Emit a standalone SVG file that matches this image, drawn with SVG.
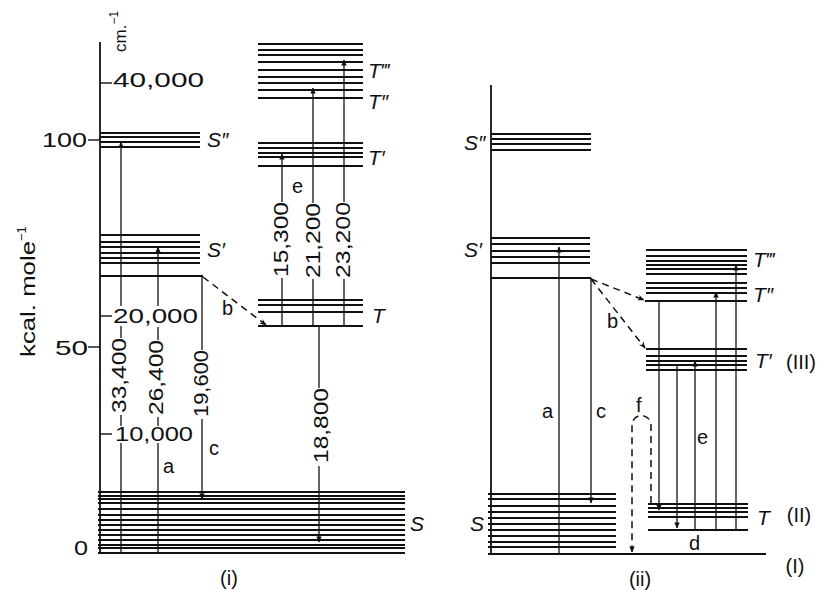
<svg xmlns="http://www.w3.org/2000/svg" width="820" height="590" viewBox="0 0 820 590">
<style>
.lv{stroke:#111;stroke-width:1.8;fill:none}
.lt{stroke:#111;stroke-width:1.3;fill:none}
.ln{stroke:#111;stroke-width:1.4;fill:none}
.ds{stroke:#111;stroke-width:1.5;fill:none;stroke-dasharray:7 5}
text{font-family:"Liberation Sans",Arial,sans-serif;fill:#111}
.num{font-size:21px}
.lab{font-size:21px;font-style:italic}
.sm{font-size:20px}
.par{font-size:20px}
</style>
<defs>
<marker id="ah" viewBox="0 0 10 10" refX="9" refY="5" markerWidth="7" markerHeight="6" markerUnits="userSpaceOnUse" orient="auto"><path d="M0,0.5 L10,5 L0,9.5 z" fill="#111"/></marker>
<marker id="ad" viewBox="0 0 10 10" refX="9" refY="5" markerWidth="9" markerHeight="7" markerUnits="userSpaceOnUse" orient="auto"><path d="M0,1 L10,5 L0,9 L3,5 z" fill="#111"/></marker>
</defs>
<rect width="820" height="590" fill="#fff"/>

<g id="axis-i">
<line class="lv" x1="100" y1="42" x2="100" y2="553"/>
<line class="ln" x1="100" y1="83" x2="112" y2="83"/>
<line class="ln" x1="88" y1="140" x2="100" y2="140"/>
<line class="ln" x1="100" y1="316" x2="112" y2="316"/>
<line class="ln" x1="88" y1="347" x2="100" y2="347"/>
<line class="ln" x1="100" y1="434" x2="112" y2="434"/>
<text class="num" x="113" y="87" textLength="91" lengthAdjust="spacingAndGlyphs">40,000</text>
<text class="num" x="42" y="147" textLength="45" lengthAdjust="spacingAndGlyphs">100</text>
<text class="num" x="113" y="323" textLength="85" lengthAdjust="spacingAndGlyphs">20,000</text>
<text class="num" x="55" y="355" textLength="33" lengthAdjust="spacingAndGlyphs">50</text>
<text class="num" x="115" y="441" textLength="78" lengthAdjust="spacingAndGlyphs">10,000</text>
<text class="num" x="74" y="555" textLength="14" lengthAdjust="spacingAndGlyphs">0</text>
<text style="font-size:17px" transform="translate(126,52) rotate(-90)">cm.<tspan dy="-8" style="font-size:12px">−1</tspan></text>
<text style="font-size:20px" transform="translate(35,357) rotate(-90)"><tspan textLength="116" lengthAdjust="spacingAndGlyphs">kcal. mole</tspan><tspan dy="-9" style="font-size:13px">−1</tspan></text>
<text class="par" x="229" y="585" text-anchor="middle">(i)</text>
</g>

<g id="S-i">
<path class="lv" d="M98 492H405M98 496H405M98 499H405M98 503H405M98 509H405M98 515H405M98 520H405M98 525H405M98 530H405M98 535H405M98 540H405M98 545H405M98 548H405M98 553H405"/>
<text class="lab" x="410" y="531">S</text>
</g>
<g id="S1-i">
<path class="lv" d="M100 235H200M100 242H200M100 247H200M100 253H200M100 258H200M100 263H200M100 276H203"/>
<text class="lab" x="207" y="257">S′</text>
</g>
<g id="S2-i">
<path class="lv" d="M100 133H200M100 137H200M100 142H200M100 147H200"/>
<text class="lab" x="207" y="147">S″</text>
</g>
<g id="T-i">
<path class="lv" d="M258 300H363M258 305H363M258 312H363M258 326H363"/>
<text class="lab" x="372" y="323">T</text>
</g>
<g id="T1-i">
<path class="lv" d="M258 143H363M258 148H363M258 153H363M258 157H363M258 166H363"/>
<text class="lab" x="368" y="165">T′</text>
</g>
<g id="T2-i">
<path class="lv" d="M258 83H363M258 90H363M258 98H363"/>
<text class="lab" x="368" y="109">T″</text>
</g>
<g id="T3-i">
<path class="lv" d="M258 44H363M258 50H363M258 55H363M258 62H363M258 70H363M258 77H363"/>
<text class="lab" x="368" y="78">T‴</text>
</g>

<g id="axis-ii">
<line class="lv" x1="491" y1="85" x2="491" y2="554"/>
<line class="lv" x1="488" y1="554" x2="766" y2="554"/>
<text class="par" x="795" y="573" text-anchor="middle">(I)</text>
<text class="par" x="640" y="586" text-anchor="middle">(ii)</text>
</g>
<g id="S-ii">
<path class="lv" d="M488 494H616M488 499H616M488 506H616M488 512H616M488 518H616M488 524H616M488 530H616M488 536H616M488 542H616M488 547H616"/>
<text class="lab" x="470" y="531">S</text>
</g>
<g id="S1-ii">
<path class="lv" d="M491 238H590M491 244H590M491 251H590M491 257H590M491 263H590M491 278H591"/>
<text class="lab" x="464" y="257">S′</text>
</g>
<g id="S2-ii">
<path class="lv" d="M491 134H591M491 139H591M491 144H591M491 150H591"/>
<text class="lab" x="464" y="150">S″</text>
</g>
<g id="T-ii">
<path class="lv" d="M648 504H748M648 508H748M648 512H748M648 517H748M648 530H748"/>
<text class="lab" x="757" y="525">T</text>
<text class="par" x="799" y="522" text-anchor="middle">(II)</text>
</g>
<g id="T1-ii">
<path class="lv" d="M646 349H747M646 356H747M646 361H747M646 365H747M646 370H747"/>
<text class="lab" x="755" y="368">T′</text>
<text class="par" x="801" y="369" text-anchor="middle">(III)</text>
</g>
<g id="T2-ii">
<path class="lv" d="M646 283H747M646 288H747M646 293H747M645 301H747"/>
<text class="lab" x="753" y="302">T″</text>
</g>
<g id="T3-ii">
<path class="lv" d="M646 250H747M646 256H747M646 261H747M646 265H747M646 269H747M646 274H747"/>
<text class="lab" x="753" y="267">T‴</text>
</g>

<g id="connectors">
<path class="lt" d="M121 553V443M121 426V415M121 338V326"/>
<line class="lt" x1="121" y1="306" x2="121" y2="142" marker-end="url(#ah)"/>
<path class="lt" d="M158 553V443M158 426V417M158 340V327"/>
<line class="lt" x1="158" y1="306" x2="158" y2="247" marker-end="url(#ah)"/>
<text class="num" transform="translate(126,413) rotate(-90)" textLength="75" lengthAdjust="spacingAndGlyphs">33,400</text>
<text class="num" transform="translate(163,415) rotate(-90)" textLength="75" lengthAdjust="spacingAndGlyphs">26,400</text>
<text class="sm" x="163" y="473">a</text>
<path class="lt" d="M202 276V350"/>
<line class="lt" x1="202" y1="419" x2="202" y2="499" marker-end="url(#ah)"/>
<text class="num" transform="translate(208,417) rotate(-90)" textLength="67" lengthAdjust="spacingAndGlyphs">19,600</text>
<text class="sm" x="209" y="455">c</text>
<line class="ds" x1="203" y1="277" x2="266" y2="325" marker-end="url(#ad)"/>
<text class="sm" x="222" y="315">b</text>
<path class="lt" d="M282 326V278M313 326V279M344 326V279"/>
<line class="lt" x1="282" y1="202" x2="282" y2="154" marker-end="url(#ah)"/>
<line class="lt" x1="313" y1="203" x2="313" y2="88" marker-end="url(#ah)"/>
<line class="lt" x1="344" y1="202" x2="344" y2="60" marker-end="url(#ah)"/>
<text class="num" transform="translate(288,277) rotate(-90)" textLength="75" lengthAdjust="spacingAndGlyphs">15,300</text>
<text class="num" transform="translate(320,278) rotate(-90)" textLength="75" lengthAdjust="spacingAndGlyphs">21,200</text>
<text class="num" transform="translate(350,278) rotate(-90)" textLength="76" lengthAdjust="spacingAndGlyphs">23,200</text>
<text class="sm" x="292" y="193">e</text>
<path class="lt" d="M319 326V388"/>
<line class="lt" x1="319" y1="466" x2="319" y2="542" marker-end="url(#ah)"/>
<text class="num" transform="translate(328,463) rotate(-90)" textLength="75" lengthAdjust="spacingAndGlyphs">18,800</text>

<line class="lt" x1="559" y1="554" x2="559" y2="247" marker-end="url(#ah)"/>
<text class="sm" x="542" y="418">a</text>
<line class="lt" x1="591" y1="278" x2="591" y2="503" marker-end="url(#ah)"/>
<text class="sm" x="596" y="418">c</text>
<line class="ds" x1="591" y1="279" x2="644" y2="300" marker-end="url(#ad)"/>
<line class="ds" x1="591" y1="279" x2="645" y2="348" marker-end="url(#ad)"/>
<text class="sm" x="607" y="328">b</text>
<line class="lt" x1="659" y1="301" x2="659" y2="510" marker-end="url(#ah)"/>
<line class="lt" x1="677" y1="365" x2="677" y2="528" marker-end="url(#ah)"/>
<line class="lt" x1="695" y1="530" x2="695" y2="361" marker-end="url(#ah)"/>
<line class="lt" x1="716" y1="530" x2="716" y2="292" marker-end="url(#ah)"/>
<line class="lt" x1="736" y1="530" x2="736" y2="265" marker-end="url(#ah)"/>
<text class="sm" x="697" y="444">e</text>
<text class="sm" x="689" y="550">d</text>
<path class="ds" d="M651 503V425A9.5 9.5 0 0 0 632 425V552" marker-end="url(#ah)"/>
<text class="sm" x="636" y="412">f</text>
</g>
</svg>
